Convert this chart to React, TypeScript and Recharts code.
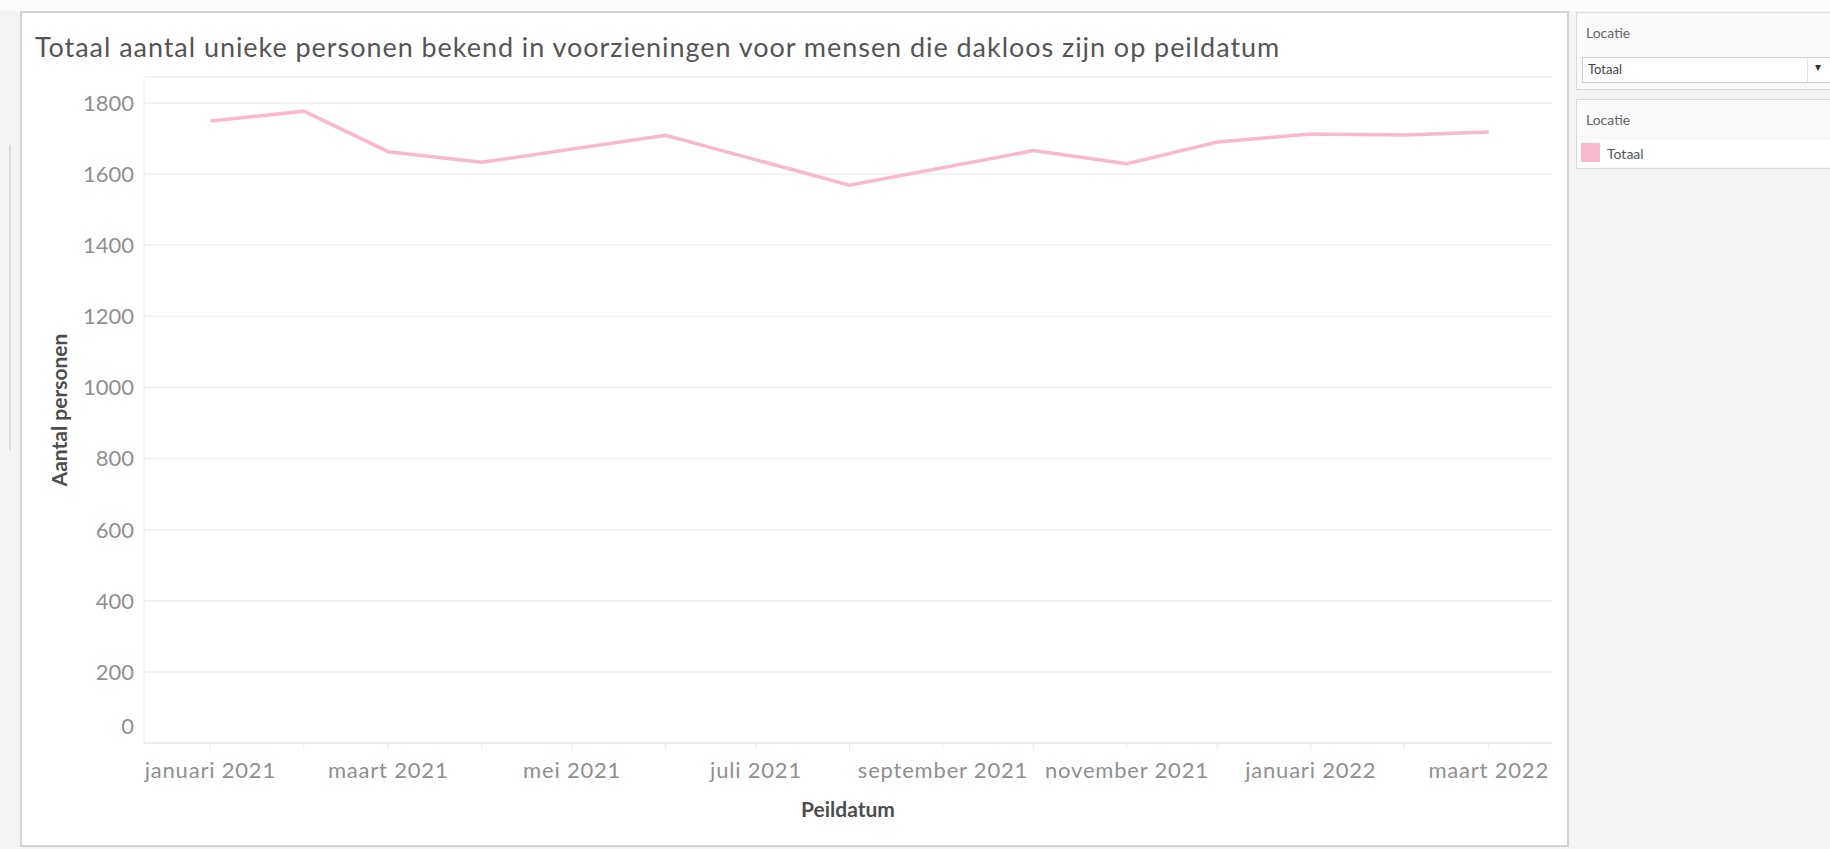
import React from "react";
import { LineChart, Line, XAxis, YAxis, CartesianGrid } from "recharts";

// peildatum (first of the month) and number of unique persons
const peildata = [
  "2021-01", "2021-02", "2021-03", "2021-04", "2021-06", "2021-08",
  "2021-10", "2021-11", "2021-12", "2022-01", "2022-02", "2022-03",
];
const totaal = [1749, 1777, 1663, 1633, 1709, 1569, 1666, 1629, 1690, 1713, 1710, 1718];

const yTicks = [0, 200, 400, 600, 800, 1000, 1200, 1400, 1600, 1800];

const axisMonths = [
  "2021-01", "2021-02", "2021-03", "2021-04", "2021-05", "2021-06", "2021-07", "2021-08",
  "2021-09", "2021-10", "2021-11", "2021-12", "2022-01", "2022-02", "2022-03",
];
const labelMonths = ["2021-01", "2021-03", "2021-05", "2021-07", "2021-09", "2021-11", "2022-01", "2022-03"];
const monthLabels = [
  "januari 2021", "maart 2021", "mei 2021", "juli 2021",
  "september 2021", "november 2021", "januari 2022", "maart 2022",
];

const PINK = "#f8b8ce";
const FONT = "Lato, 'Open Sans', sans-serif";

function toTime(m: string): number {
  const [y, mo] = m.split("-").map(Number);
  return Date.UTC(y, mo - 1, 1);
}

const data = peildata.map((m, i) => ({ t: toTime(m), totaal: totaal[i] }));
const xTicks = axisMonths.map(toTime);
const labelByTime = new Map(labelMonths.map((m, i) => [toTime(m), monthLabels[i]]));
const xDomain = [Date.UTC(2020, 11, 10), Date.UTC(2022, 2, 22)];

function YTick(props: any) {
  const { x, y, payload } = props;
  const shift = payload.value === 0 ? -17 : 0;
  return (
    <text x={x} y={y + shift} dy="0.36em" textAnchor="end" fill="#8f8f8f" fontSize={22} fontFamily={FONT}>
      {payload.value}
    </text>
  );
}

export default function App() {
  return (
    <div
      style={{
        position: "absolute",
        left: 0,
        top: 0,
        width: 1830,
        height: 849,
        overflow: "hidden",
        background: "#f3f3f3",
        fontFamily: FONT,
      }}
    >
      <div style={{ position: "absolute", left: 0, top: 0, width: 1830, height: 11, background: "#fbfbfb" }} />
      <div style={{ position: "absolute", left: 9, top: 145, width: 2, height: 305, background: "#dcdcdc" }} />

      {/* main panel */}
      <div
        style={{
          position: "absolute",
          left: 20,
          top: 11,
          width: 1545,
          height: 832,
          background: "#fff",
          border: "2px solid #d2d2d2",
        }}
      />
      <div
        style={{
          position: "absolute",
          left: 35,
          top: 31,
          fontSize: 27,
          letterSpacing: 0.95,
          color: "#555",
          whiteSpace: "nowrap",
          lineHeight: "32px",
        }}
      >
        Totaal aantal unieke personen bekend in voorzieningen voor mensen die dakloos zijn op peildatum
      </div>

      <div style={{ position: "absolute", left: 0, top: 0 }}>
        <LineChart
          width={1830}
          height={849}
          data={data}
          margin={{ top: 77, right: 278, bottom: 66, left: 84 }}
        >
          <CartesianGrid vertical={false} stroke="#efefef" strokeWidth={1.5} />
          <XAxis
            dataKey="t"
            type="number"
            domain={xDomain}
            ticks={xTicks}
            allowDataOverflow
            height={40}
            interval={0}
            tickSize={7}
            tickMargin={12}
            tickLine={{ stroke: "#ececec" }}
            axisLine={{ stroke: "#e6e6e6" }}
            tickFormatter={(v: number) => labelByTime.get(v) ?? ""}
            tick={{ fill: "#8f8f8f", fontSize: 22, fontFamily: FONT, letterSpacing: 0.8 }}
            label={{
              content: (p: any) => (
                <text
                  x={p.viewBox.x + p.viewBox.width / 2}
                  y={808}
                  textAnchor="middle"
                  dominantBaseline="central"
                  fill="#4d4d4d"
                  fontSize={21}
                  fontWeight={700}
                  fontFamily={FONT}
                >
                  Peildatum
                </text>
              ),
            }}
          />
          <YAxis
            type="number"
            domain={[0, 1873]}
            ticks={yTicks}
            allowDataOverflow
            width={60}
            tickSize={0}
            tickMargin={10}
            tickLine={false}
            axisLine={{ stroke: "#ececec" }}
            tick={<YTick />}
            label={{
              content: () => (
                <text
                  x={58}
                  y={410}
                  transform="rotate(-90 58 410)"
                  textAnchor="middle"
                  dominantBaseline="central"
                  fill="#4d4d4d"
                  fontSize={21}
                  fontWeight={700}
                  fontFamily={FONT}
                >
                  Aantal personen
                </text>
              ),
            }}
          />
          <Line
            type="linear"
            dataKey="totaal"
            stroke={PINK}
            strokeWidth={3.5}
            dot={false}
            activeDot={false}
            isAnimationActive={false}
          />
        </LineChart>
      </div>

      {/* filter card */}
      <div
        style={{
          position: "absolute",
          left: 1576,
          top: 12,
          width: 270,
          height: 76,
          background: "#f9f9f9",
          border: "1px solid #d9d9d9",
        }}
      />
      <div style={{ position: "absolute", left: 1586, top: 24, fontSize: 14, color: "#666" }}>Locatie</div>
      <div
        style={{
          position: "absolute",
          left: 1582,
          top: 57,
          width: 260,
          height: 24,
          background: "#fff",
          border: "1px solid #cfcfcf",
        }}
      />
      <div style={{ position: "absolute", left: 1807, top: 58, width: 1, height: 24, background: "#e2e2e2" }} />
      <div style={{ position: "absolute", left: 1588, top: 61, fontSize: 13, color: "#444" }}>Totaal</div>
      <div style={{ position: "absolute", left: 1815, top: 59, fontSize: 12, color: "#333" }}>▾</div>

      {/* legend card */}
      <div
        style={{
          position: "absolute",
          left: 1576,
          top: 99,
          width: 270,
          height: 68,
          background: "#f9f9f9",
          border: "1px solid #d9d9d9",
        }}
      />
      <div style={{ position: "absolute", left: 1586, top: 111, fontSize: 14, color: "#666" }}>Locatie</div>
      <div style={{ position: "absolute", left: 1577, top: 140, width: 260, height: 27, background: "#fff" }} />
      <div style={{ position: "absolute", left: 1581, top: 143, width: 19, height: 19, background: PINK }} />
      <div style={{ position: "absolute", left: 1607, top: 145, fontSize: 14, color: "#555" }}>Totaal</div>
    </div>
  );
}
